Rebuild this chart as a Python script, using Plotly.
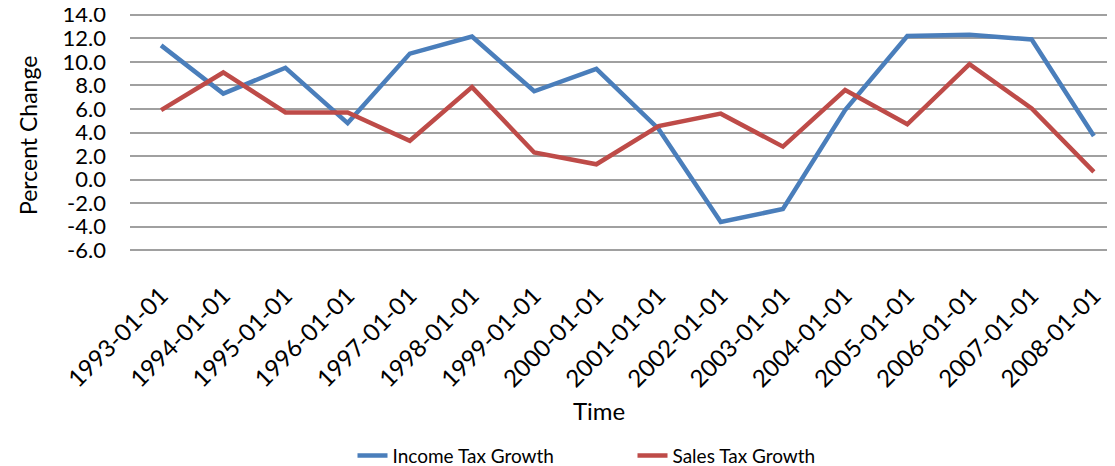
import plotly.graph_objects as go

dates = ["1993-01-01", "1994-01-01", "1995-01-01", "1996-01-01", "1997-01-01",
         "1998-01-01", "1999-01-01", "2000-01-01", "2001-01-01", "2002-01-01",
         "2003-01-01", "2004-01-01", "2005-01-01", "2006-01-01", "2007-01-01",
         "2008-01-01"]
income_tax_growth = [11.4, 7.3, 9.5, 4.8, 10.7, 12.15, 7.5, 9.4, 4.3, -3.6,
                     -2.5, 5.9, 12.2, 12.3, 11.9, 3.7]
sales_tax_growth = [5.9, 9.1, 5.7, 5.7, 3.3, 7.85, 2.3, 1.3, 4.55, 5.6,
                    2.8, 7.6, 4.7, 9.8, 6.05, 0.66]
y_ticks = [-6, -4, -2, 0, 2, 4, 6, 8, 10, 12, 14]
y_tick_labels = [f"{v:.1f}" for v in y_ticks]

FONT = "Lato"
OFF = 8  # browser body margin
W, H = 1115 - OFF, 466 - OFF
YMIN, YMAX = -6.15, 14.15
PXU = 11.75  # pixels per unit
# desired plot area in screen pixels
PX0, PX1 = 130, 1115
PY0 = 15 - (YMAX - 14) * PXU
PY1 = 250 + (-6 - YMIN) * PXU
L = PX0 - OFF
T = PY0 - OFF
B = H - (PY1 - OFF)
plot_h = PY1 - PY0
plot_w = PX1 - PX0


def px(x):
    return (x - PX0) / plot_w


def py(y):
    return (PY1 - y) / plot_h


fig = go.Figure()
fig.add_trace(go.Scatter(x=dates, y=income_tax_growth, mode="lines",
                         name="Income Tax Growth",
                         line=dict(color="#4a7ebb", width=4.5)))
fig.add_trace(go.Scatter(x=dates, y=sales_tax_growth, mode="lines",
                         name="Sales Tax Growth",
                         line=dict(color="#be4b48", width=4.5)))

fig.update_layout(
    width=W, height=H,
    margin=dict(l=L, r=0, t=T, b=B, autoexpand=False),
    paper_bgcolor="white", plot_bgcolor="white",
    font=dict(family=FONT, color="#000000", size=23),
    showlegend=True,
    legend=dict(orientation="h", x=px(574.5 + 58), xanchor="center", y=py(455),
                yanchor="middle", font=dict(size=19, family=FONT),
                entrywidth=235, bgcolor="rgba(0,0,0,0)"),
    xaxis=dict(type="category", range=[-0.5, 15.34], showgrid=False,
               zeroline=False, showline=False, ticks="", tickangle=-45,
               tickfont=dict(size=24, family=FONT), ticklabelstandoff=24,
               automargin=False),
    yaxis=dict(range=[YMIN, YMAX], tickvals=y_ticks, ticktext=y_tick_labels,
               showgrid=True, gridcolor="#a0a0a0", gridwidth=1.6,
               zeroline=False, showline=False, ticks="",
               tickfont=dict(size=22, family=FONT), ticklabelstandoff=23,
               ticklabeloverflow="allow", automargin=False),
    annotations=[
        dict(text="Percent Change", xref="paper", yref="paper",
             x=px(28), y=py(136),
             xanchor="center", yanchor="middle", textangle=-90,
             showarrow=False, font=dict(size=23, family=FONT)),
        dict(text="Time", xref="paper", yref="paper",
             x=px(599), y=py(410),
             xanchor="center", yanchor="middle",
             showarrow=False, font=dict(size=24, family=FONT)),
    ],
)

fig.write_html("out.html")
